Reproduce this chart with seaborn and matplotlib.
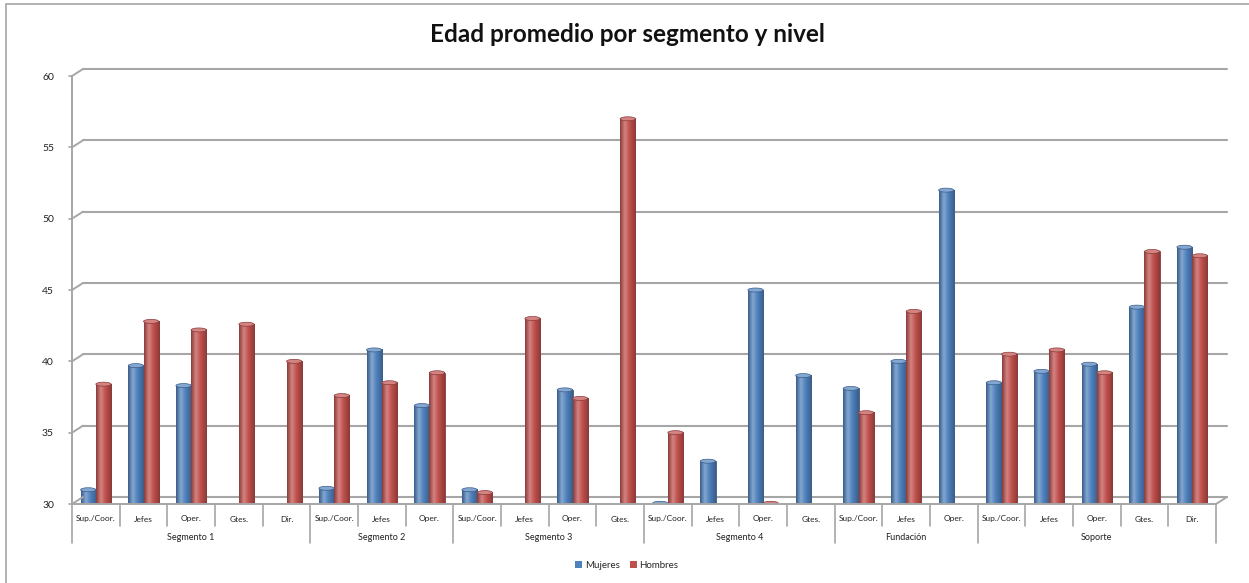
import matplotlib

matplotlib.use("Agg")

import numpy as np
import pandas as pd
import matplotlib.pyplot as plt
import matplotlib.transforms as mtransforms
from matplotlib.colors import LinearSegmentedColormap, to_rgb
from matplotlib.patches import Ellipse, Patch, Rectangle
import seaborn as sns

nan = np.nan

# categories: one level per slot, grouped by segment
group_names = ["Segmento 1", "Segmento 2", "Segmento 3", "Segmento 4", "Fundación", "Soporte"]
group_sizes = [5, 3, 4, 4, 3, 5]
levels = [
    "Sup./Coor.", "Jefes", "Oper.", "Gtes.", "Dir.",
    "Sup./Coor.", "Jefes", "Oper.",
    "Sup./Coor.", "Jefes", "Oper.", "Gtes.",
    "Sup./Coor.", "Jefes", "Oper.", "Gtes.",
    "Sup./Coor.", "Jefes", "Oper.",
    "Sup./Coor.", "Jefes", "Oper.", "Gtes.", "Dir.",
]
mujeres = [31.0, 39.7, 38.3, nan, nan,
           31.1, 40.8, 36.9,
           31.0, nan, 38.0, nan,
           30.05, 33.0, 45.0, 39.0,
           38.1, 40.0, 52.0,
           38.5, 39.3, 39.8, 43.8, 48.0]
hombres = [38.4, 42.8, 42.2, 42.6, 40.0,
           37.6, 38.5, 39.2,
           30.8, 43.0, 37.4, 57.0,
           35.0, nan, 30.05, nan,
           36.4, 43.5, nan,
           40.5, 40.8, 39.2, 47.7, 47.4]
series_names = ["Mujeres", "Hombres"]
series_colors = ["#4F81BD", "#C0504D"]
y_ticks = [30, 35, 40, 45, 50, 55, 60]

slots = list(range(len(levels)))
df = pd.DataFrame({
    "slot": slots * 2,
    "sexo": [series_names[0]] * len(slots) + [series_names[1]] * len(slots),
    "edad": mujeres + hombres,
})

sns.set_theme(style="white")
plt.rcParams["font.family"] = ["Lato", "DejaVu Sans"]

fig = plt.figure(figsize=(12.49, 5.83), dpi=100)
W, H = 1249, 583
ax = fig.add_axes([72 / W, (H - 504) / H, (1216 - 72) / W, (504 - 76) / H])

sns.barplot(
    data=df, x="slot", y="edad", hue="sexo",
    hue_order=series_names, palette=series_colors,
    order=slots, width=0.64, errorbar=None, saturation=1,
    linewidth=0.6, legend=False, ax=ax,
)

# cylinder-like shading on each bar
grad = np.linspace(0, 1, 64).reshape(1, -1)
for patch in list(ax.patches):
    h = patch.get_height()
    if not np.isfinite(h) or h == 0:
        continue
    base = to_rgb(patch.get_facecolor())
    dark = tuple(c * 0.72 for c in base)
    light = tuple(c + (1 - c) * 0.3 for c in base)
    patch.set_edgecolor(dark)
    cmap = LinearSegmentedColormap.from_list(
        "cyl", [(0, dark), (0.3, light), (0.6, base), (1, dark)])
    x0, w = patch.get_x(), patch.get_width()
    top = patch.get_y() + h
    ax.imshow(grad, cmap=cmap, extent=[x0, x0 + w, patch.get_y(), top],
              aspect="auto", clip_path=patch, zorder=patch.get_zorder() + 0.1,
              interpolation="bilinear")
    ax.add_patch(Ellipse((x0 + w / 2, top), w, 0.28, facecolor=light,
                         edgecolor=dark, linewidth=0.5,
                         zorder=patch.get_zorder() + 0.2))

ax.set_xlim(-0.5, len(levels) - 0.5)
ax.set_ylim(30, 60)
ax.set_xlabel("")
ax.set_ylabel("")
ax.set_yticks(y_ticks)
ax.set_yticklabels([str(t) for t in y_ticks], fontsize=7.5, color="#222222")
ax.tick_params(axis="y", length=0, pad=13)
ax.set_xticks([])
for side in ["top", "right"]:
    ax.spines[side].set_visible(False)
for side in ["left", "bottom"]:
    ax.spines[side].set_color("#A6A6A6")
    ax.spines[side].set_linewidth(1.4)

# back-wall gridlines with a small perspective shift
grid_color = "#A6A6A6"
back = mtransforms.offset_copy(ax.get_yaxis_transform(), fig=fig, x=11, y=7, units="dots")
front = ax.get_yaxis_transform()
for t in y_ticks:
    ax.plot([0, 1], [t, t], transform=back, color=grid_color, lw=1.5, zorder=0.5, clip_on=False)
    # connect front axis to the back wall
    p0 = front.transform((0, t))
    p1 = back.transform((0, t))
    fig.add_artist(plt.Line2D([p0[0] / W, p1[0] / W], [p0[1] / H, p1[1] / H],
                              color=grid_color, lw=1.4))
    fig.add_artist(plt.Line2D([(p0[0] - 3) / W, p0[0] / W], [p0[1] / H, p0[1] / H],
                              color=grid_color, lw=1.2))
# right floor corner
p0 = front.transform((1, 30))
p1 = back.transform((1, 30))
fig.add_artist(plt.Line2D([p0[0] / W, p1[0] / W], [p0[1] / H, p1[1] / H],
                          color=grid_color, lw=1.4))

# category table under the axis
sep_tr = mtransforms.blended_transform_factory(ax.transData, ax.transAxes)
px = 1 / (504 - 76)
for i, lab in enumerate(levels):
    ax.text(i, -15 * px, lab, transform=sep_tr, ha="center", va="center",
            fontsize=6, color="#222222")
bounds = np.cumsum([0] + group_sizes) - 0.5
for b in np.arange(-0.5, len(levels)):
    depth = -39 * px if np.any(np.isclose(bounds, b)) else -22 * px
    ax.plot([b, b], [0, depth], transform=sep_tr, color="#A6A6A6", lw=1.2, clip_on=False)
for name, a, b in zip(group_names, bounds[:-1], bounds[1:]):
    ax.text((a + b) / 2, -33 * px, name, transform=sep_tr, ha="center",
            va="center", fontsize=6.5, color="#222222")

fig.text(0.502, 1 - 34 / H, "Edad promedio por segmento y nivel",
         ha="center", va="center", fontsize=17.5, fontweight="bold", color="#111111")

handles = [Patch(facecolor=c, edgecolor="none", label=n)
           for n, c in zip(series_names, series_colors)]
fig.legend(handles=handles, loc="center", bbox_to_anchor=(0.502, 1 - 565 / H),
           ncol=2, frameon=False, fontsize=7, handlelength=0.7, handleheight=0.7,
           handletextpad=0.3, columnspacing=1.0)

# chart area frame
fig.add_artist(Rectangle((6 / W, -0.1), 1.2, 1.1 - 4 / H, transform=fig.transFigure,
                         fill=False, edgecolor="#A6A6A6", lw=1.2))

fig.savefig("out.png", dpi=100)
plt.close(fig)
